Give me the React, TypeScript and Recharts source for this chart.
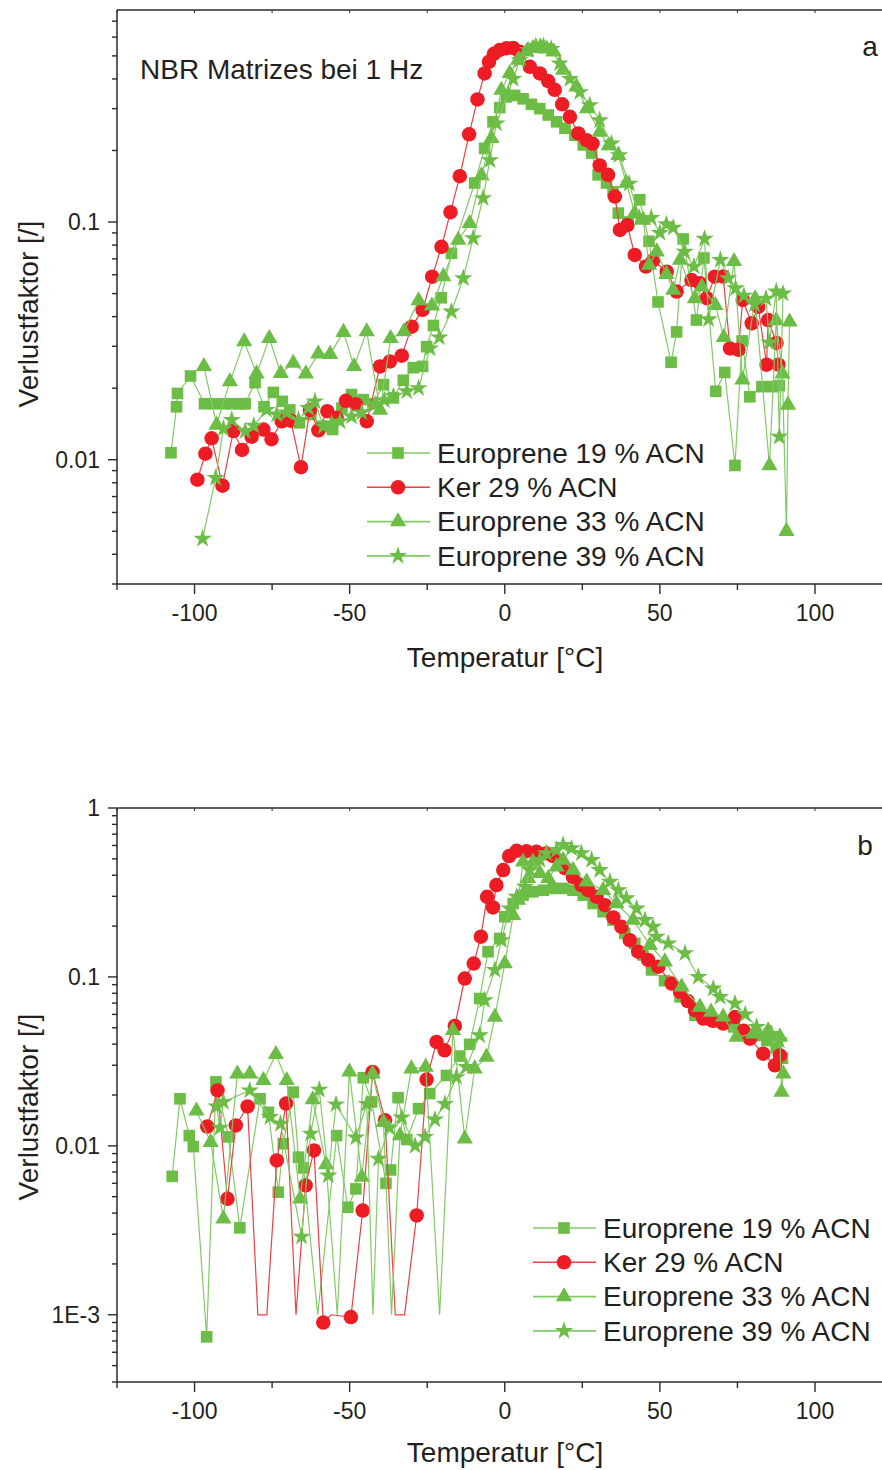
import React from "react";
import { ScatterChart, Scatter, XAxis, YAxis, Legend, Label, Symbols } from "recharts";

const FONT = '"Liberation Sans", Arial, Helvetica, sans-serif';
const INK = "#231f20";
const AXIS = "#2b2b2b";
const GREEN = "#6cbd45";
const GREEN_LINE = "#82ca66";
const RED = "#ed1c24";
const RED_LINE = "#ef3e44";

const NAMES = ["Europrene 19 % ACN", "Ker 29 % ACN", "Europrene 33 % ACN", "Europrene 39 % ACN"];

// temperature axis (°C)
const X_TICKS = [-125, -100, -75, -50, -25, 0, 25, 50, 75, 100];
const X_DOMAIN: [number, number] = [-125, 121.6];

// loss factor axis ticks
const A_Y_TICKS = [0.003, 0.004, 0.005, 0.006, 0.007, 0.008, 0.009, 0.01, 0.02, 0.03, 0.04, 0.05, 0.06, 0.07, 0.08, 0.09, 0.1, 0.2, 0.3, 0.4, 0.5, 0.6, 0.7];
const B_Y_TICKS = [0.0004, 0.0005, 0.0006, 0.0007, 0.0008, 0.0009, 0.001, 0.002, 0.003, 0.004, 0.005, 0.006, 0.007, 0.008, 0.009, 0.01, 0.02, 0.03, 0.04, 0.05, 0.06, 0.07, 0.08, 0.09, 0.1, 0.2, 0.3, 0.4, 0.5, 0.6, 0.7, 0.8, 0.9, 1];
const Y_LABELS: Record<string, string> = { "1": "1", "0.1": "0.1", "0.01": "0.01", "0.001": "1E-3" };

// ---- panel a ----
const aE19T = [-107.6, -105.8, -105.5, -101.3, -96.8, -94, -90.7, -88, -85.3, -83.7, -80.5, -77.6, -74.6, -71.7, -69.3, -66.2, -62.5, -59, -55.5, -52.5, -49.4, -45.6, -42.5, -39.1, -35.9, -32.7, -29.5, -26.5, -25.2, -23, -20.5, -17.2, -9.7, -6.5, -3.8, -1.6, 0.5, 3.2, 5.9, 8.6, 11.3, 14, 16.7, 19.4, 22.6, 25.3, 28, 30.1, 32.8, 34.9, 36.6, 39.8, 43.5, 46.5, 49.4, 53.6, 55.4, 57.5, 61.8, 64.2, 68, 70.9, 74.2, 76.5, 79, 82.9, 86.4, 88.5];
const aE19V = [0.0107, 0.0167, 0.019, 0.0225, 0.0172, 0.0172, 0.0172, 0.0172, 0.0172, 0.0172, 0.0211, 0.0167, 0.0192, 0.0176, 0.0162, 0.0143, 0.0155, 0.0138, 0.0134, 0.0165, 0.0188, 0.0179, 0.0172, 0.0207, 0.0182, 0.0216, 0.0244, 0.0247, 0.0299, 0.0367, 0.048, 0.0738, 0.146, 0.204, 0.264, 0.303, 0.336, 0.341, 0.33, 0.313, 0.3, 0.282, 0.264, 0.248, 0.232, 0.211, 0.195, 0.158, 0.146, 0.134, 0.109, 0.1, 0.124, 0.083, 0.0461, 0.0257, 0.0345, 0.0849, 0.0387, 0.0706, 0.0194, 0.0233, 0.00946, 0.0316, 0.0184, 0.0203, 0.0203, 0.0205];

const aK29T = [-99.1, -96.5, -94.5, -91, -87.5, -84.7, -81.6, -77.8, -75.2, -71.9, -69, -65.7, -62.8, -60.1, -57.2, -54.2, -51.2, -48, -44.5, -40.2, -37, -33.2, -30, -26.5, -23.4, -20.4, -17.5, -14.5, -11.5, -8.8, -6.5, -5.1, -3.5, -1.6, 0.5, 2.7, 4.8, 8.1, 11.3, 14, 16.1, 18.5, 21, 23.7, 26.4, 28.3, 30.6, 33.3, 35.5, 37.1, 39.5, 41.9, 45.5, 47.8, 52.2, 55.4, 60.2, 62.9, 65.1, 67.7, 70.4, 72.6, 75.3, 76.7, 79.6, 81.7, 84.4, 84.9, 87.6, 88.2];
const aK29V = [0.00824, 0.0106, 0.0123, 0.00778, 0.0132, 0.011, 0.0125, 0.0134, 0.0122, 0.0145, 0.0146, 0.0093, 0.0162, 0.0133, 0.016, 0.015, 0.0177, 0.0171, 0.0145, 0.0247, 0.0259, 0.0274, 0.0363, 0.0427, 0.0589, 0.0787, 0.11, 0.156, 0.234, 0.328, 0.422, 0.472, 0.51, 0.53, 0.538, 0.54, 0.52, 0.45, 0.422, 0.392, 0.36, 0.313, 0.277, 0.236, 0.221, 0.214, 0.173, 0.158, 0.128, 0.0926, 0.097, 0.0727, 0.065, 0.069, 0.0618, 0.051, 0.057, 0.0553, 0.0478, 0.0589, 0.059, 0.0294, 0.029, 0.047, 0.0375, 0.044, 0.0251, 0.0387, 0.031, 0.0251];

const aE33T = [-97, -92.9, -88.6, -84, -80, -75.9, -72.2, -68.2, -64.1, -60.1, -56.3, -52, -48.6, -44.5, -40.2, -36.8, -32.5, -27.8, -23.5, -19.8, -15, -11.3, -7.5, -4.3, -1.1, 1.6, 4.3, 7, 9.1, 11.5, 13.5, 15.8, 18.8, 23.1, 26.5, 30.6, 33.5, 36.6, 39.2, 41.9, 44.6, 46.5, 49, 52.1, 54.3, 56.5, 61.3, 63.5, 67.9, 70.6, 73.9, 76.6, 80.7, 85.3, 87.5, 89.5, 90.8, 91.3, 91.8];
const aE33V = [0.0247, 0.014, 0.0213, 0.0314, 0.023, 0.0324, 0.0231, 0.0255, 0.023, 0.0279, 0.0278, 0.0344, 0.0247, 0.0346, 0.0162, 0.0324, 0.0346, 0.0467, 0.0444, 0.059, 0.084, 0.0987, 0.157, 0.225, 0.359, 0.422, 0.48, 0.52, 0.538, 0.545, 0.535, 0.52, 0.436, 0.371, 0.3, 0.239, 0.21, 0.191, 0.146, 0.109, 0.102, 0.0659, 0.075, 0.0603, 0.0517, 0.0692, 0.0476, 0.0534, 0.0446, 0.0327, 0.0683, 0.0217, 0.0476, 0.00945, 0.0385, 0.023, 0.005, 0.017, 0.038];

const aE39T = [-97.4, -93.2, -90.7, -88, -83.7, -80.9, -76.8, -73.5, -70.3, -66.5, -63.3, -61.2, -58.5, -55.8, -53.1, -49.4, -46.1, -41.8, -38.8, -35.9, -31.6, -27.8, -24.1, -21.1, -17.2, -13.4, -10.2, -7, -4.8, -2.7, 1.1, 2.7, 4.8, 7.5, 10, 12.5, 15, 17.7, 21, 24.2, 27.4, 30.6, 34.4, 36.8, 40.1, 43.4, 47.2, 50, 52.1, 54.3, 58, 61, 64.4, 65.7, 69.5, 72, 74.4, 77.1, 80.5, 84.2, 85.3, 87.5, 88.5, 89.7];
const aE39V = [0.00465, 0.00838, 0.0135, 0.0147, 0.0132, 0.0139, 0.0162, 0.0155, 0.0158, 0.0147, 0.0165, 0.0176, 0.0138, 0.0142, 0.0145, 0.0152, 0.0158, 0.0171, 0.0178, 0.0185, 0.0194, 0.02, 0.0294, 0.0327, 0.042, 0.058, 0.0855, 0.126, 0.182, 0.26, 0.348, 0.4, 0.48, 0.53, 0.55, 0.55, 0.535, 0.465, 0.4, 0.352, 0.31, 0.268, 0.214, 0.191, 0.145, 0.104, 0.104, 0.09, 0.0978, 0.0946, 0.075, 0.065, 0.085, 0.039, 0.0693, 0.058, 0.0526, 0.049, 0.045, 0.0476, 0.0311, 0.051, 0.0125, 0.05];

// ---- panel b ---- (0 = below range, drawn on the 1E-3 floor without marker)
const bE19T = [-107.2, -104.7, -101.7, -100.4, -96.1, -93.1, -89.1, -85.4, -78.9, -76.2, -73, -71.4, -68.2, -66.5, -64.9, -60.3, -54.2, -50.6, -48, -45.6, -42.9, -38.3, -36.8, -34.4, -31.6, -27.8, -24.2, -18.8, -14.5, -11.3, -8.1, -5.4, -1.6, 0, 2.7, 5.9, 9.1, 12.4, 15.6, 18.8, 22, 25.3, 28.5, 31.7, 34.9, 38.7, 41.9, 44.5, 47.3, 51.5, 56.5, 61.3, 65, 69.5, 73.7, 77, 81, 84.5, 87.5, 89.5];
const bE19V = [0.0066, 0.019, 0.0115, 0.0099, 0.00074, 0.0239, 0.0113, 0.00327, 0.019, 0.0158, 0.00532, 0.0103, 0.0208, 0.00857, 0.0074, 0, 0.0115, 0.00433, 0.00556, 0.0253, 0.0182, 0.006, 0.0072, 0.0193, 0.0109, 0.0166, 0.0204, 0.0261, 0.034, 0.0399, 0.0745, 0.141, 0.169, 0.227, 0.272, 0.305, 0.319, 0.326, 0.334, 0.334, 0.326, 0.305, 0.272, 0.243, 0.217, 0.181, 0.158, 0.135, 0.11, 0.095, 0.0762, 0.0593, 0.056, 0.054, 0.0506, 0.046, 0.045, 0.042, 0.038, 0.033];

const bK29T = [-95.9, -92.6, -89.4, -86.7, -82.9, -79.6, -76.7, -73.5, -70.5, -67.3, -64.2, -61.5, -58.5, -56, -49.6, -45.8, -42.6, -38.6, -35.3, -32.3, -28.4, -25.2, -22, -19.4, -16.1, -12.9, -10, -7.7, -5.7, -3.8, -2.7, -0.5, 1.4, 3.8, 7, 10.2, 13.4, 15.6, 19.4, 22, 24.7, 26.9, 29.6, 32.3, 35, 37.6, 40.3, 43, 46.2, 49.5, 53.8, 56.5, 59, 61.3, 64, 67, 70.4, 74.2, 77, 79, 83.3, 87.1, 88.7];
const bK29V = [0.013, 0.0213, 0.00486, 0.0132, 0.0171, 0, 0, 0.0082, 0.0178, 0, 0.00583, 0.0094, 0.0009, 0, 0.00097, 0.00414, 0.0274, 0.0142, 0, 0, 0.00387, 0.0247, 0.0412, 0.0368, 0.0513, 0.0978, 0.12, 0.173, 0.298, 0.258, 0.35, 0.429, 0.519, 0.558, 0.555, 0.55, 0.54, 0.519, 0.44, 0.39, 0.35, 0.326, 0.298, 0.266, 0.225, 0.198, 0.165, 0.141, 0.126, 0.115, 0.0914, 0.0815, 0.072, 0.0635, 0.0567, 0.055, 0.053, 0.0579, 0.048, 0.0431, 0.0351, 0.03, 0.0343];

const bE33T = [-99.4, -94.8, -90.7, -86.2, -82.2, -77.8, -73.8, -70.3, -66, -61.9, -57.6, -54, -50.1, -46.1, -42.6, -39.1, -36.5, -33.8, -30.1, -25.5, -21, -16.7, -12.9, -9.7, -5.9, -3.2, 0, 2.7, 4.3, 5.9, 7.5, 9.1, 11.3, 14, 16.7, 18.8, 22, 26.4, 31.7, 36, 41.4, 46.8, 51.6, 57, 62.9, 66.5, 70.4, 74.7, 80.1, 84.9, 88.7, 89.2, 89.8];
const bE33V = [0.0161, 0.0105, 0.0037, 0.0267, 0.0267, 0.0244, 0.0348, 0.0244, 0.00486, 0.0188, 0.00776, 0, 0.0274, 0.00653, 0.0267, 0.0138, 0, 0.0115, 0.0286, 0.0293, 0, 0.0483, 0.011, 0.0286, 0.0336, 0.0579, 0.12, 0.232, 0.285, 0.48, 0.383, 0.48, 0.41, 0.383, 0.449, 0.492, 0.429, 0.366, 0.326, 0.272, 0.217, 0.154, 0.123, 0.0873, 0.0664, 0.062, 0.058, 0.0441, 0.046, 0.048, 0.0441, 0.0208, 0.0267];

const bE39T = [-92.9, -91.8, -90.7, -82.2, -75.7, -72.3, -65.5, -62.6, -59.8, -56.9, -54.4, -48, -44.5, -42.5, -40.7, -37.2, -33.2, -28.9, -25.7, -22.5, -19.3, -15.6, -12.4, -8.1, -6.5, -3.2, -1.1, 1.6, 3.8, 6.5, 8.1, 11.3, 13.4, 16.7, 18.8, 21.5, 24.7, 28, 30.6, 33.9, 36.6, 39.2, 42.5, 45.2, 47.8, 48.9, 52.7, 58.1, 62.4, 67.2, 69.4, 74.2, 77.5, 81.2, 86, 88.5];
const bE39V = [0.0171, 0.0128, 0.0182, 0.0213, 0.0148, 0.0135, 0.0029, 0.0118, 0.0215, 0.00668, 0.0176, 0.0112, 0.0177, 0, 0.00838, 0.0128, 0.0147, 0.01, 0.0113, 0.0143, 0.0177, 0.0255, 0.0293, 0.0451, 0.0728, 0.11, 0.165, 0.254, 0.298, 0.342, 0.429, 0.492, 0.54, 0.564, 0.604, 0.577, 0.54, 0.492, 0.429, 0.366, 0.326, 0.292, 0.254, 0.217, 0.198, 0.173, 0.158, 0.138, 0.1, 0.0853, 0.0762, 0.0696, 0.06, 0.0506, 0.046, 0.042];

const FLOOR = 0.001;

const STYLES = [
  { shape: "square", size: 135, fill: GREEN, line: GREEN_LINE },
  { shape: "circle", size: 165, fill: RED, line: RED_LINE },
  { shape: "triangle", size: 115, fill: GREEN, line: GREEN_LINE },
  { shape: "star", size: 105, fill: GREEN, line: GREEN_LINE },
];

const zip = (t: number[], v: number[]) =>
  t.map((x, i) => (v[i] > 0 ? { t: x, v: v[i], floor: false } : { t: x, v: FLOOR, floor: true }));

const panelA = [zip(aE19T, aE19V), zip(aK29T, aK29V), zip(aE33T, aE33V), zip(aE39T, aE39V)];
const panelB = [zip(bE19T, bE19V), zip(bK29T, bK29V), zip(bE33T, bE33V), zip(bE39T, bE39V)];

const makeShape = (type: any, size: number, fill: string) => (p: any) => {
  if (p.payload && p.payload.floor) return <g />;
  if (p.cx == null || p.cy == null) return <g />;
  return <Symbols cx={p.cx} cy={p.cy} type={type} size={size} fill={fill} />;
};

function XTick(props: any) {
  const { x, y, payload } = props;
  const major = payload.value % 50 === 0;
  return (
    <g>
      <line x1={x} x2={x} y1={y} y2={y + (major ? 10 : 6)} stroke={AXIS} strokeWidth={1.4} />
      {major && (
        <text x={x} y={y + 29} dy="0.35em" textAnchor="middle" fontSize={23} fontFamily={FONT} fill={INK}>
          {payload.value}
        </text>
      )}
    </g>
  );
}

function TopTick(props: any) {
  const { x, y } = props;
  return <line x1={x} x2={x} y1={y} y2={y + 3} stroke={AXIS} strokeWidth={1} />;
}

function YTick(props: any) {
  const { x, y, payload } = props;
  const lg = Math.log10(payload.value);
  const major = Math.abs(lg - Math.round(lg)) < 1e-6;
  return (
    <g>
      <line x1={x - (major ? 9 : 5)} x2={x} y1={y} y2={y} stroke={AXIS} strokeWidth={1.4} />
      {major && (
        <text x={x - 17} y={y} dy="0.35em" textAnchor="end" fontSize={23} fontFamily={FONT} fill={INK}>
          {Y_LABELS[String(payload.value)]}
        </text>
      )}
    </g>
  );
}

function LegendBox({ width }: { width: number }) {
  return (
    <svg width={width} height={140} style={{ display: "block", overflow: "visible" }}>
      {NAMES.map((name, i) => {
        const s = STYLES[i];
        const y = 14 + i * 34.3;
        return (
          <g key={name}>
            <line x1={0} x2={63} y1={y} y2={y} stroke={s.line} strokeWidth={1.6} />
            <Symbols cx={31} cy={y} type={s.shape as any} size={s.size} fill={s.fill} />
            <text x={70} y={y} dy="0.35em" fontSize={28} fontFamily={FONT} fill={INK}>
              {name}
            </text>
          </g>
        );
      })}
    </svg>
  );
}

type PanelProps = {
  top: number;
  height: number;
  marginTop: number;
  xAxisHeight: number;
  yDomain: [number, number];
  yTicks: number[];
  data: { t: number; v: number; floor: boolean }[][];
  legendLeft: number;
  legendTop: number;
  letter: string;
  letterX: number;
  letterY: number;
  showTitle: boolean;
  xTitleY: number;
  yTitleY: number;
};

function Panel(p: PanelProps) {
  const legendWidth = 882 - p.legendLeft;
  return (
    <div style={{ position: "absolute", left: 0, top: p.top }}>
      <ScatterChart width={882} height={p.height} margin={{ top: p.marginTop, right: 0, bottom: 0, left: 0 }}>
        <XAxis
          xAxisId="top"
          orientation="top"
          type="number"
          dataKey="t"
          domain={X_DOMAIN}
          allowDataOverflow
          ticks={X_TICKS}
          interval={0}
          height={1}
          tickSize={0}
          tickMargin={0}
          tickLine={false}
          axisLine={{ stroke: AXIS, strokeWidth: 1.5 }}
          tick={<TopTick />}
        >
          <Label
            content={() => (
              <g fontFamily={FONT} fill={INK}>
                <text x={p.letterX} y={p.letterY} dy="0.35em" textAnchor="middle" fontSize={28}>
                  {p.letter}
                </text>
                {p.showTitle && (
                  <text x={140} y={69} dy="0.35em" fontSize={28}>
                    NBR Matrizes bei 1 Hz
                  </text>
                )}
              </g>
            )}
          />
        </XAxis>
        <XAxis
          type="number"
          dataKey="t"
          domain={X_DOMAIN}
          allowDataOverflow
          ticks={X_TICKS}
          interval={0}
          height={p.xAxisHeight}
          tickSize={0}
          tickMargin={0}
          tickLine={false}
          axisLine={{ stroke: AXIS, strokeWidth: 1.5 }}
          tick={<XTick />}
        >
          <Label
            content={() => (
              <text x={505} y={p.xTitleY} dy="0.35em" textAnchor="middle" fontSize={28} fontFamily={FONT} fill={INK}>
                Temperatur [°C]
              </text>
            )}
          />
        </XAxis>
        <YAxis
          type="number"
          dataKey="v"
          scale="log"
          domain={p.yDomain}
          allowDataOverflow
          ticks={p.yTicks}
          interval={0}
          width={117}
          tickSize={0}
          tickMargin={0}
          tickLine={false}
          axisLine={{ stroke: AXIS, strokeWidth: 1.5 }}
          tick={<YTick />}
        >
          <Label
            content={() => (
              <text
                x={28}
                y={p.yTitleY}
                dy="0.35em"
                textAnchor="middle"
                fontSize={28}
                fontFamily={FONT}
                fill={INK}
                transform={`rotate(-90 28 ${p.yTitleY})`}
              >
                Verlustfaktor [/]
              </text>
            )}
          />
        </YAxis>
        {p.data.map((d, i) => (
          <Scatter
            key={NAMES[i]}
            name={NAMES[i]}
            data={d}
            fill={STYLES[i].fill}
            line={{ stroke: STYLES[i].line, strokeWidth: 1.2 }}
            lineType="joint"
            shape={makeShape(STYLES[i].shape, STYLES[i].size, STYLES[i].fill)}
            isAnimationActive={false}
          />
        ))}
        <Legend
          layout="vertical"
          align="center"
          verticalAlign="middle"
          wrapperStyle={{ left: p.legendLeft, top: p.legendTop, width: legendWidth }}
          content={() => <LegendBox width={legendWidth} />}
        />
      </ScatterChart>
    </div>
  );
}

export default function App() {
  return (
    <div style={{ position: "absolute", left: 0, top: 0, width: 882, height: 1470, overflow: "hidden", background: "#fff" }}>
      <Panel
        top={0}
        height={700}
        marginTop={9}
        xAxisHeight={116}
        yDomain={[0.003, 0.78]}
        yTicks={A_Y_TICKS}
        data={panelA}
        legendLeft={367}
        legendTop={439}
        letter="a"
        letterX={870}
        letterY={46}
        showTitle
        xTitleY={657}
        yTitleY={314}
      />
      <Panel
        top={778}
        height={692}
        marginTop={29}
        xAxisHeight={88}
        yDomain={[0.0004, 1]}
        yTicks={B_Y_TICKS}
        data={panelB}
        legendLeft={533}
        legendTop={436}
        letter="b"
        letterX={865}
        letterY={67}
        showTitle={false}
        xTitleY={674}
        yTitleY={329}
      />
    </div>
  );
}
